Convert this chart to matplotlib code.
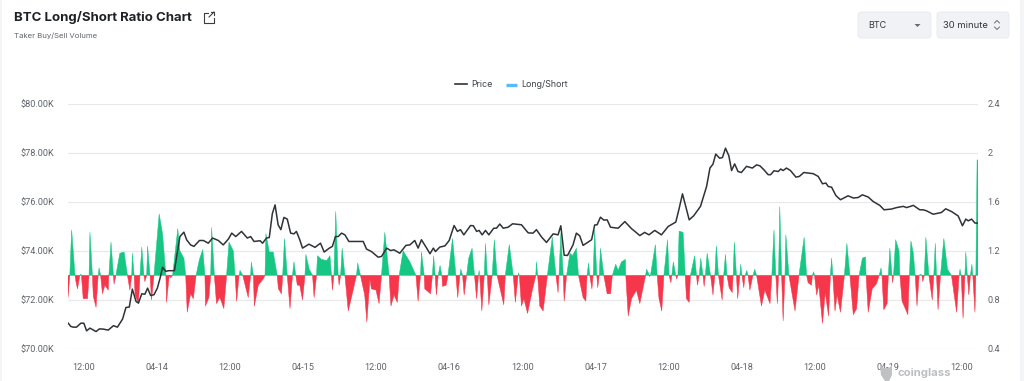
import matplotlib
matplotlib.use("Agg")
import matplotlib.pyplot as plt
from matplotlib.lines import Line2D
from matplotlib.patches import FancyBboxPatch, Rectangle
import numpy as np

# x positions are 30 minute slots counted from the left edge of the chart
price_slots = [
    0.1, 0.9, 1.7, 2.8, 4.2, 5.2, 6.1, 7.2, 9.2, 10.3, 11.6, 13.2, 14.9, 16.2, 17.9, 19, 20.1, 21.1, 22.3, 23.1,
    24.2, 25.2, 26.1, 27.1, 28.2, 29.3, 30.2, 31, 32.1, 32.9, 34.9, 35.8, 36.7, 38, 38.9, 40.2, 41.3, 43.1, 44.4, 46,
    47.4, 49.3, 50.9, 52.6, 53.7, 55, 56.9, 58.8, 59.9, 61, 63, 63.8, 65.1, 66, 67, 67.9, 68.9, 69.8, 70.8, 71.9,
    73, 74.1, 74.9, 76, 76.9, 79, 81, 82.8, 84, 85.7, 86.7, 87.7, 88.6, 89.7, 90.8, 92.1, 94.4, 96.8, 97.9, 99.5,
    101.7, 102.8, 104.5, 105.8, 106.9, 108.8, 110.8, 112.1, 113.7, 114.8, 115.9, 117.6, 118.7, 119.8, 120.5, 121.9, 123.6, 125, 126.6, 127.7,
    128.7, 129.8, 132, 132.9, 134, 134.8, 135.8, 136.9, 138, 139.6, 140.5, 141.6, 142.7, 144.3, 145.8, 148.7, 150.9, 152.5, 153.6, 155.3,
    156.9, 159.1, 160.7, 161.6, 162.7, 163.8, 165.6, 166.7, 167.8, 168.9, 171.7, 172.7, 173.5, 174.6, 175.7, 176.8, 177.9, 180.4, 182.6, 184.8,
    185.9, 187.5, 189.1, 190.5, 192.4, 194.6, 196.8, 199.3, 200.3, 201.5, 203.7, 205.2, 207.4, 209.4, 210.5, 211.5, 212.4, 213.7, 214.6, 215.6,
    216.7, 217.6, 218.6, 219.7, 220.8, 222.5, 224.4, 225.8, 226.9, 228.2, 229.6, 230.4, 231.5, 232.9, 233.7, 234.5, 235.6, 236.9, 238.7, 239.8,
    241.3, 244.4, 246, 247.4, 248.5, 249.3, 250.4, 251.8, 253.3, 255.8, 257.5, 259.1, 260.5, 262.4, 264, 266.2, 267.6, 270, 271.7, 273.9,
    275, 277.2, 279.3, 280.4, 281.5, 283.7, 286.4, 287.8, 289.7, 291.9, 293.3, 294.4, 295.2, 296.3, 297.4, 298.2,
]
price_k = [
    71.05, 70.92, 70.89, 70.89, 71.05, 71.05, 70.74, 70.85, 70.71, 70.82, 70.81, 70.77, 70.95, 70.89, 71.22, 71.69, 71.71, 72.44, 71.94, 71.87,
    72.25, 72.23, 72.48, 72.18, 72.21, 72.48, 72.89, 73.33, 73.16, 73.19, 73.19, 73.9, 74.58, 74.76, 74.45, 74.24, 74.18, 74.42, 74.42, 74.31,
    74.52, 74.42, 74.24, 74.48, 74.72, 74.58, 74.79, 74.52, 74.58, 74.38, 74.41, 74.31, 74.52, 74.54, 75.51, 75.87, 75.06, 74.86, 75.36, 75.29,
    74.72, 74.69, 74.79, 74.45, 74.11, 74.27, 74.14, 74.31, 73.95, 74.11, 74.18, 74.58, 74.58, 74.72, 74.65, 74.38, 74.38, 74.38, 74.07, 73.97,
    73.74, 73.77, 74.11, 74.01, 74.04, 73.9, 74.22, 74.24, 74.42, 74.11, 74.45, 74.11, 73.88, 74.11, 73.97, 74.15, 74.2, 74.42, 75.03, 74.79,
    74.86, 74.65, 75.03, 75.02, 74.79, 74.83, 74.65, 74.83, 74.65, 74.92, 74.92, 75.09, 74.92, 74.96, 75.1, 75.06, 74.73, 74.72, 74.86, 74.56,
    74.34, 74.69, 74.65, 75.02, 73.82, 73.81, 74.24, 74.72, 74.61, 74.22, 74.45, 75.05, 75.06, 75.37, 75.25, 75.26, 74.96, 74.92, 75.19, 74.9,
    74.79, 74.62, 74.75, 74.65, 74.83, 74.65, 74.99, 75.17, 75.67, 76.32, 75.26, 75.43, 75.81, 76.62, 77.37, 77.53, 77.94, 77.77, 77.8, 78.18,
    77.87, 77.27, 77.54, 77.23, 77.19, 77.44, 77.37, 77.5, 77.46, 77.3, 77.1, 77.1, 77.26, 77.23, 77.33, 77.27, 77.37, 77.27, 77.0, 77.03,
    77.19, 77.14, 77.03, 76.73, 76.76, 76.62, 76.59, 76.25, 76.08, 76.24, 76.15, 76.17, 76.28, 76.19, 76.01, 75.85, 75.67, 75.7, 75.76, 75.81,
    75.76, 75.85, 75.67, 75.67, 75.63, 75.49, 75.56, 75.71, 75.6, 75.42, 75.02, 75.29, 75.22, 75.29, 75.13, 75.13,
]

ratio_slots = [
    0, 0.6, 1.2, 2.3, 2.6, 3.1, 3.9, 4.2, 4.4, 5, 6.4, 6.9, 7.2, 8, 8.3, 9.2, 9.9, 10.2, 10.7, 11.3,
    12.1, 13.2, 13.4, 14.1, 14.9, 15.1, 15.7, 17, 18.4, 19.5, 20.3, 20.9, 21.1, 21.7, 22, 23.1, 23.6, 24.2, 24.9, 25.2,
    25.8, 26.1, 26.9, 27.4, 28.2, 29.9, 31, 32.1, 32.3, 33.2, 33.7, 34.3, 36, 36.7, 38, 38.6, 39.1, 40.2, 41.1, 42,
    43.1, 44.2, 44.9, 45.1, 46.2, 46.8, 47.1, 48, 48.7, 49.8, 51.1, 52, 52.8, 54.2, 54.8, 55.3, 56.1, 56.4, 57.3, 59.1,
    59.9, 60.1, 60.8, 61.1, 62.4, 64, 64.6, 64.9, 66, 67.3, 68.6, 69, 70, 70.4, 71, 71.9, 72.8, 73.6, 74.1, 74.7,
    75.2, 76, 76.9, 77.7, 78, 79.1, 80.2, 80.7, 81.5, 81.8, 83.1, 84.8, 85.9, 86.4, 86.7, 87.2, 87.8, 88.6, 88.9, 89.4,
    89.9, 90.8, 91.9, 93.5, 94.6, 95, 95.9, 97.3, 98, 99, 99.5, 101, 102, 102.8, 103.9, 105.3, 105.9, 106.9, 108, 108.6,
    109.9, 112.1, 114.1, 114.8, 115.6, 115.9, 116.8, 117, 118.9, 119.5, 119.9, 120.4, 120.8, 121.4, 122, 122.6, 122.8, 124, 124.6, 126.1,
    127.2, 127.8, 128.5, 128.8, 129.4, 129.9, 130.7, 131.4, 132.5, 133.3, 134, 134.6, 134.8, 135, 135.7, 136.5, 136.9, 137.5, 138, 139.1,
    139.8, 140.7, 142.9, 143.4, 144.7, 146, 146.7, 147.6, 147.7, 148, 148.7, 149.5, 150.7, 152, 153.4, 153.6, 154, 154.7, 155.8, 157.2,
    158.8, 160, 160.7, 161, 161.6, 162.4, 162.7, 163.5, 164.6, 165.4, 166.7, 167.4, 168.9, 169.8, 170.2, 170.7, 171.1, 171.8, 172.2, 172.7,
    173.4, 173.7, 174.2, 174.6, 175.7, 176.8, 177.9, 178.5, 179.6, 180.4, 181.5, 182.8, 182.9, 183.7, 184.8, 186.4, 187.5, 189.4, 189.7, 190.5,
    190.7, 191, 191.9, 192.6, 193.2, 193.8, 194.7, 195.4, 196.6, 197.1, 197.7, 198, 198.5, 199.3, 199.6, 200, 200.4, 201.7, 202.4, 202.8,
    203.7, 204.1, 205.5, 206.1, 206.4, 207, 207.5, 208.2, 208.6, 209, 209.6, 210.7, 211.5, 212.1, 212.6, 213.3, 214.5, 215, 215.6, 216.1,
    216.8, 217.8, 218.1, 218.5, 219.2, 219.6, 220.3, 220.6, 221, 221.6, 222, 222.6, 223, 223.6, 224.6, 225.2, 225.8, 227.4, 228.5, 230.2,
    230.8, 231.5, 232.1, 232.6, 233, 233.4, 234, 234.5, 235.1, 235.4, 236.4, 238.4, 239.7, 241.4, 242.2, 242.7, 243.8, 244.1, 244.5, 244.8,
    245.5, 246.2, 247.4, 248.3, 249.4, 250, 250.4, 250.8, 251.5, 252.2, 253.3, 254.6, 255.4, 256.4, 257.5, 258.6, 259.4, 260.5, 261.5, 261.7,
    262.4, 263.7, 265.1, 266, 266.6, 266.9, 267.5, 268.6, 269, 269.5, 270.2, 270.4, 270.7, 271.4, 272.5, 272.8, 273.5, 275.4, 275.9, 276.4,
    277.2, 277.8, 278.4, 279.1, 279.6, 280, 280.3, 280.8, 281.3, 282.3, 283.4, 283.9, 284.4, 284.8, 285.3, 286.1, 287.2, 288.4, 289.7, 291.4,
    292.2, 292.5, 292.9, 293.5, 294.1, 294.4, 294.9, 295.4, 295.9, 296.4, 296.7, 297.4, 297.7, 298.1, 298.4,
]
ratio_values = [
    0.82, 1, 1.37, 1, 0.95, 0.89, 1, 1.01, 1, 0.81, 0.81, 1, 1.35, 1, 0.83, 0.74, 1, 1.06, 1, 0.85,
    0.92, 0.88, 1, 1.27, 1, 0.93, 1, 1.18, 1.19, 1, 0.88, 1, 1.18, 1, 0.84, 0.77, 1, 1.23, 1, 0.95,
    1, 1.24, 1, 0.8, 1, 1.5, 1.34, 1, 0.78, 1, 0.98, 1, 1.38, 1.2, 1.14, 1, 0.7, 0.85, 0.81, 1,
    1.13, 1.21, 1, 0.75, 0.82, 1, 1.39, 1, 0.77, 0.82, 0.73, 1, 1.27, 1.2, 1, 0.79, 1, 1.04, 1, 0.82,
    1, 1.11, 1, 0.75, 0.92, 0.97, 1, 1.34, 1.19, 1.19, 1, 0.89, 0.85, 1, 1.3, 1, 0.73, 1, 1.11, 1,
    0.92, 0.92, 0.8, 1, 1.17, 1.05, 1, 0.82, 1, 1.16, 1.13, 1.12, 1.16, 1, 0.88, 1, 1.52, 1, 0.92, 1,
    1.22, 1, 0.71, 0.88, 1, 1.1, 1, 0.84, 0.62, 0.97, 0.89, 0.88, 0.77, 1, 1.35, 1, 0.75, 0.84, 0.78, 1,
    1.2, 1.11, 1, 0.79, 1, 1.19, 1, 0.89, 0.85, 1, 1.16, 1, 0.84, 1, 1.08, 1, 0.91, 0.92, 1, 1.3,
    1, 0.82, 1, 1.05, 1, 0.84, 1, 1.14, 1.22, 1, 0.81, 1, 1.04, 1, 0.71, 1, 1.26, 1, 0.76, 1,
    1.29, 1, 0.76, 1, 1.25, 1, 0.78, 1, 1.02, 1, 0.75, 0.81, 0.69, 0.85, 1, 1.11, 1, 0.75, 0.71, 1,
    1.31, 1, 0.86, 1, 1.34, 1, 0.79, 1, 1.18, 1.16, 1.22, 1, 0.82, 0.79, 1, 1.1, 1, 0.89, 1, 1.37,
    1, 0.9, 1, 1.22, 1, 0.85, 0.85, 1, 1.09, 1.04, 1.11, 1.13, 1, 0.67, 0.81, 0.88, 0.77, 1, 1.05, 1.01,
    0.99, 1, 1.14, 1.25, 1, 0.81, 0.71, 1, 1.29, 1, 0.94, 1, 1.11, 1, 0.97, 1, 1.36, 1.35, 1, 0.81,
    0.78, 1, 1.16, 1, 0.92, 1, 1.14, 1, 0.91, 1, 1.18, 1, 0.84, 1, 1.24, 1, 0.8, 1, 1.17, 1,
    0.9, 0.86, 1, 1.27, 1, 0.81, 1, 1.09, 1, 0.9, 1, 1.04, 1, 0.88, 1, 1.05, 1, 0.75, 0.88, 0.77,
    1, 1.37, 1, 0.77, 1, 1.56, 1, 0.63, 1, 1.33, 1, 0.71, 1, 1.31, 1, 0.94, 0.92, 1, 1.03, 1,
    0.84, 0.92, 0.61, 0.86, 0.67, 1, 1.14, 1, 0.71, 0.84, 0.7, 1, 1.26, 1, 0.68, 0.73, 1, 1.14, 1.15, 1,
    0.7, 0.89, 0.93, 1, 1.06, 1, 0.72, 0.77, 1, 1.22, 1, 0.94, 1, 1.29, 1.2, 1, 0.79, 0.68, 1, 1.28,
    1.18, 1, 0.75, 1, 1.01, 1, 0.95, 1, 1.31, 1, 0.8, 1, 1.26, 1, 0.72, 1, 1.3, 1.05, 1, 0.7,
    1, 1.05, 1, 0.65, 1, 1.19, 1, 0.84, 1, 1.09, 1, 0.7, 1, 1.94, 1.94,
]

x_tick_slots = [5, 29, 53, 77, 101, 125, 149, 173, 197, 221, 245, 269, 293]
x_tick_labels = ["12:00", "04-14", "12:00", "04-15", "12:00", "04-16", "12:00",
                 "04-17", "12:00", "04-18", "12:00", "04-19", "12:00"]
price_ticks = [70, 72, 74, 76, 78, 80]
price_tick_labels = ["$70.00K", "$72.00K", "$74.00K", "$76.00K", "$78.00K", "$80.00K"]
ratio_ticks = [0.4, 0.8, 1.2, 1.6, 2.0, 2.4]
ratio_tick_labels = ["0.4", "0.8", "1.2", "1.6", "2", "2.4"]

W, H = 1024, 381
GREEN = "#16c784"
RED = "#f6364a"
LINE = "#2f3338"
GREY = "#5f646b"
plt.rcParams["font.family"] = ["Inter", "DejaVu Sans"]

fig = plt.figure(figsize=(W / 100, H / 100), dpi=100, facecolor="white")


def fx(px):
    return px / W


def fy(py):
    return 1 - py / H


# page margins either side of the white card
fig.add_artist(Rectangle((0, 0), fx(2), 1, transform=fig.transFigure, color="#f4f5f7", lw=0))
fig.add_artist(Rectangle((fx(1020), 0), fx(4), 1, transform=fig.transFigure, color="#f4f5f7", lw=0))

ax = fig.add_axes([fx(68), fy(349), fx(978 - 68), (349 - 103.5) / H])
ax.set_xlim(0, 298.4)
ax.set_ylim(70, 80)
ax.set_yticks(price_ticks, price_tick_labels)
ax.set_xticks(x_tick_slots, x_tick_labels)
ax.grid(axis="y", color="#e9e9ea", lw=0.9)
ax.set_axisbelow(True)
ax.tick_params(length=0, labelsize=6.6, labelcolor=GREY)
ax.tick_params(axis="y", pad=10)
ax.tick_params(axis="x", pad=10)
for lab in ax.get_xticklabels() + ax.get_yticklabels():
    lab.set_family(["Roboto", "DejaVu Sans"])
for s in ax.spines.values():
    s.set_visible(False)

ax2 = ax.twinx()
ax2.set_ylim(0.4, 2.4)
ax2.set_yticks(ratio_ticks, ratio_tick_labels)
ax2.tick_params(length=0, labelsize=6.6, labelcolor=GREY, pad=7)
for lab in ax2.get_yticklabels():
    lab.set_family(["Roboto", "DejaVu Sans"])
for s in ax2.spines.values():
    s.set_visible(False)

xs = np.array(ratio_slots)
ys = np.array(ratio_values)
# thin edge in the fill colour keeps the narrow spikes visible
ax2.fill_between(xs, 1, ys, where=ys >= 1, interpolate=True, facecolor=GREEN, edgecolor=GREEN, lw=0.35)
ax2.fill_between(xs, 1, ys, where=ys <= 1, interpolate=True, facecolor=RED, edgecolor=RED, lw=0.35)

# price goes on top of the ratio areas
ax2.plot(price_slots, (np.array(price_k) - 70) / 10 * 2 + 0.4, color=LINE, lw=1.1, solid_joinstyle="round")

# header
fig.text(fx(14), fy(17), "BTC Long/Short Ratio Chart", fontsize=9.5, fontweight="bold",
         color="#1e2126", va="center", ha="left")
fig.text(fx(14), fy(36), "Taker Buy/Sell Volume", fontsize=5.6, color="#5f646b", va="center", ha="left")

overlay = fig.add_axes([0, 0, 1, 1], facecolor="none")
overlay.set_xlim(0, W)
overlay.set_ylim(H, 0)
overlay.axis("off")

# external link icon
overlay.plot([208, 203.5, 203.5, 214, 214], [12.5, 12.5, 22.5, 22.5, 18], color="#3a3e44", lw=0.8)
overlay.plot([209, 214], [17, 12], color="#3a3e44", lw=0.8)
overlay.plot([210.5, 214, 214], [11.5, 11.5, 15], color="#3a3e44", lw=0.8)

# selectors
for left, right in [(858, 931), (937, 1009)]:
    overlay.add_patch(FancyBboxPatch((left + 3, 15), right - left - 6, 20, boxstyle="round,pad=3",
                                     fc="#f0f2f5", ec="#e7e9ed", lw=0.6))
overlay.text(868, 25, "BTC", fontsize=6.5, color="#33373d", va="center", ha="left")
overlay.text(943, 25, "30 minute", fontsize=6.8, color="#33373d", va="center", ha="left")
overlay.fill([914.5, 920.5, 917.5], [24, 24, 27], color="#666b72", lw=0)
overlay.plot([994.5, 997, 999.5], [23, 20.5, 23], color="#555a60", lw=0.6)
overlay.plot([994.5, 997, 999.5], [27, 29.5, 27], color="#555a60", lw=0.6)

# legend
overlay.plot([455, 467], [84, 84], color=LINE, lw=1.2)
overlay.text(471, 84.5, "Price", fontsize=6.4, color="#3f444a", va="center", ha="left")
overlay.plot([506, 517], [84.5, 84.5], color="#5ab8ff", lw=2.4, solid_capstyle="butt")
overlay.text(521, 84.5, "Long/Short", fontsize=6.4, color="#3f444a", va="center", ha="left")

# watermark
overlay.text(898, 373, "coinglass", fontsize=8.1, fontweight="bold", color="#bcbfc2", va="center", ha="left")
overlay.fill([880, 884, 889, 892, 892, 889, 885, 881], [365, 368, 368, 365, 375, 381, 381, 375], color="#bfc1c3", lw=0)

fig.savefig("out.png", dpi=100)
